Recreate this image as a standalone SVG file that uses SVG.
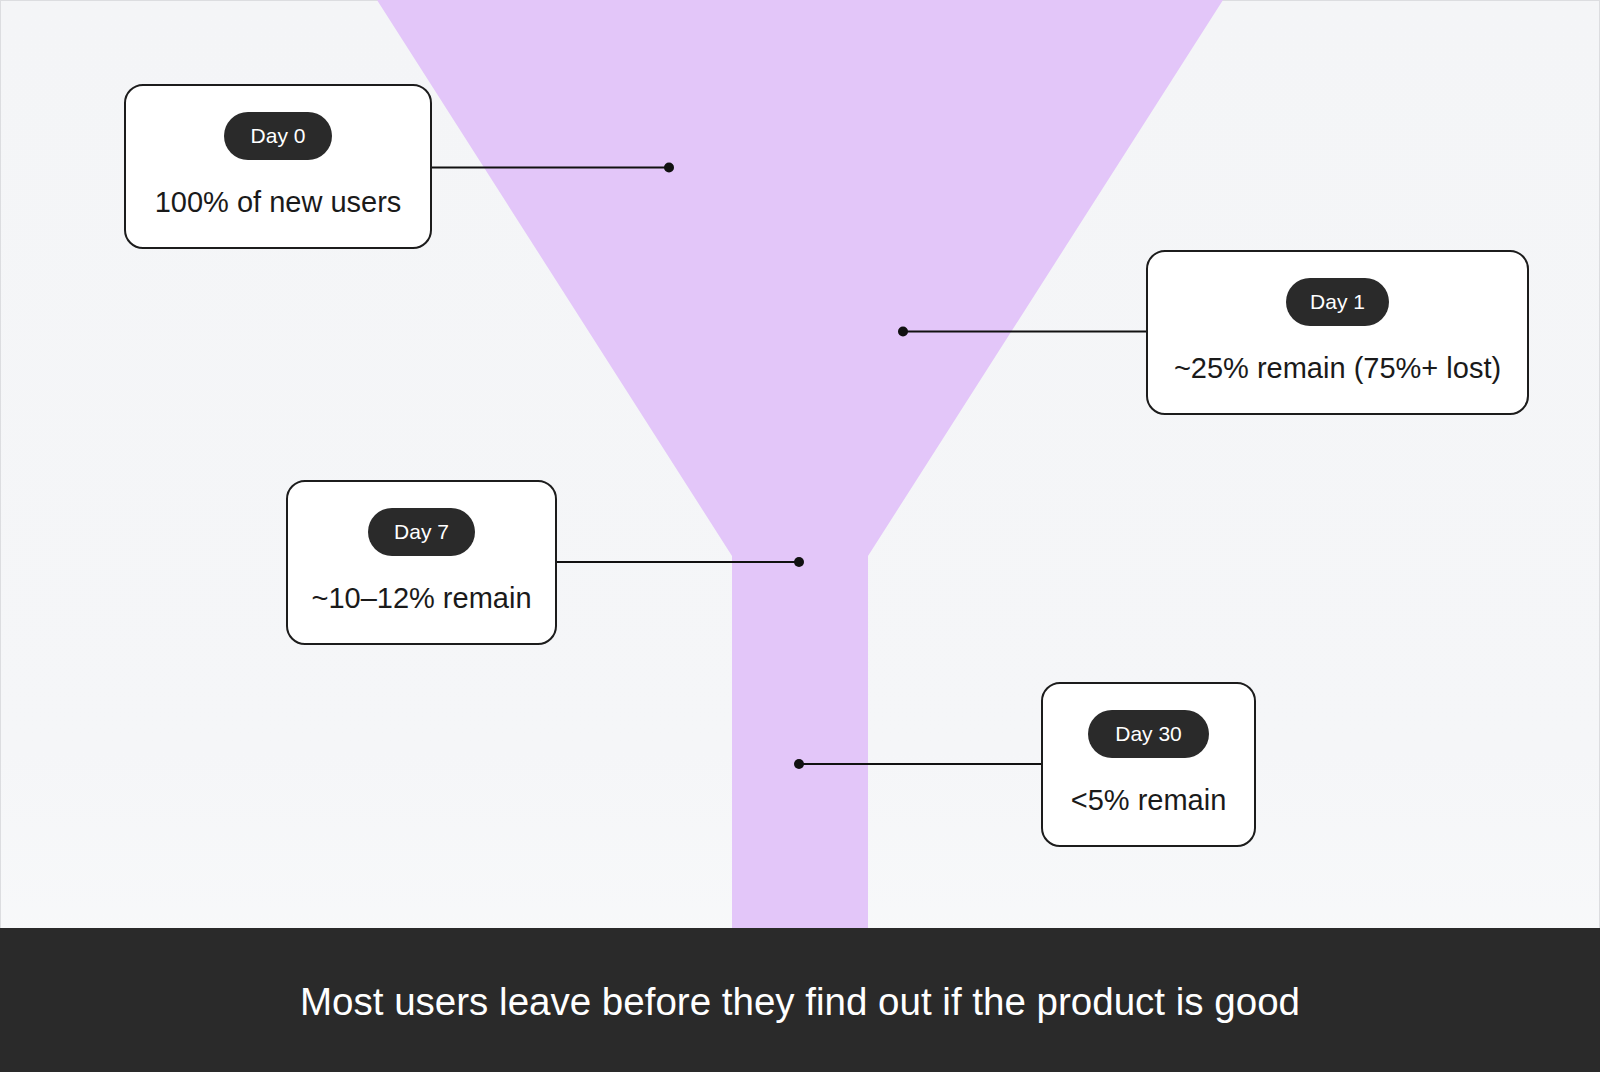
<svg xmlns="http://www.w3.org/2000/svg" width="1600" height="1072" viewBox="0 0 1600 1072">
  <defs>
    <linearGradient id="bg" x1="0" y1="0" x2="0" y2="1">
      <stop offset="0" stop-color="#f4f5f7"/>
      <stop offset="0.7" stop-color="#f5f6f8"/>
      <stop offset="1" stop-color="#f9fafb"/>
    </linearGradient>
  </defs>
  <style>
    .box { fill: #ffffff; stroke: #1c1c1c; stroke-width: 2; }
    .pill { fill: #2a2a2a; }
    .pilltxt { font-family: "Liberation Sans", Arial, sans-serif; font-size: 21px; fill: #ffffff; text-anchor: middle; }
    .txt { font-family: "Liberation Sans", Arial, sans-serif; font-size: 29px; fill: #1a1a1a; text-anchor: middle; }
    .conn { stroke: #111111; stroke-width: 2; fill: none; }
    .dot { fill: #111111; }
  </style>
  <rect x="0" y="0" width="1600" height="1072" fill="url(#bg)"/>
  <rect x="0.5" y="0.5" width="1599" height="1071" fill="none" stroke="#dcdde0" stroke-width="1"/>
  <!-- funnel -->
  <polygon points="377,0 1223,0 868,556 868,928 732,928 732,556" fill="#e3c6f9"/>
  <!-- footer -->
  <rect x="0" y="928" width="1600" height="144" fill="#2a2a2a"/>
  <text x="800" y="1015" font-family="'Liberation Sans', Arial, sans-serif" font-size="38" fill="#ffffff" text-anchor="middle" textLength="1000" lengthAdjust="spacingAndGlyphs">Most users leave before they find out if the product is good</text>

  <g id="connectors">
    <line class="conn" x1="431" y1="167.5" x2="669" y2="167.5"/>
    <circle class="dot" cx="669" cy="167.5" r="5"/>
    <line class="conn" x1="903" y1="331.5" x2="1147" y2="331.5"/>
    <circle class="dot" cx="903" cy="331.5" r="5"/>
    <line class="conn" x1="556" y1="562" x2="799" y2="562"/>
    <circle class="dot" cx="799" cy="562" r="5"/>
    <line class="conn" x1="799" y1="764" x2="1042" y2="764"/>
    <circle class="dot" cx="799" cy="764" r="5"/>
  </g>

  <g id="day0">
    <rect class="box" x="125" y="85" width="306" height="163" rx="18"/>
    <rect class="pill" x="224" y="112" width="108" height="48" rx="24"/>
    <text class="pilltxt" x="278" y="143">Day 0</text>
    <text class="txt" x="278" y="212">100% of new users</text>
  </g>

  <g id="day1">
    <rect class="box" x="1147" y="251" width="381" height="163" rx="18"/>
    <rect class="pill" x="1286" y="278" width="103" height="48" rx="24"/>
    <text class="pilltxt" x="1337.5" y="309">Day 1</text>
    <text class="txt" x="1337.5" y="378">~25% remain (75%+ lost)</text>
  </g>

  <g id="day7">
    <rect class="box" x="287" y="481" width="269" height="163" rx="18"/>
    <rect class="pill" x="368" y="508" width="107" height="48" rx="24"/>
    <text class="pilltxt" x="421.5" y="539">Day 7</text>
    <text class="txt" x="421.5" y="608">~10–12% remain</text>
  </g>

  <g id="day30">
    <rect class="box" x="1042" y="683" width="213" height="163" rx="18"/>
    <rect class="pill" x="1088" y="710" width="121" height="48" rx="24"/>
    <text class="pilltxt" x="1148.5" y="741">Day 30</text>
    <text class="txt" x="1148.5" y="810">&lt;5% remain</text>
  </g>
</svg>
